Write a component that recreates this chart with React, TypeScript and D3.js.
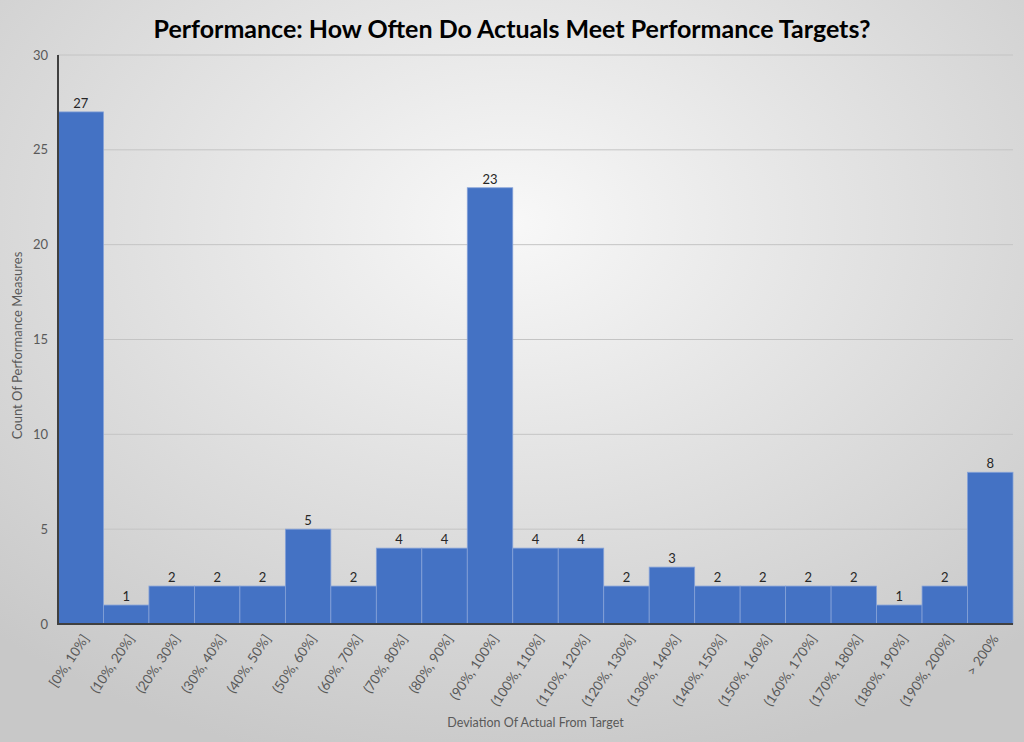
import React, { useRef, useEffect } from 'react';
import * as d3 from 'd3';

const categories = [
  '[0%, 10%]', '(10%, 20%]', '(20%, 30%]', '(30%, 40%]', '(40%, 50%]',
  '(50%, 60%]', '(60%, 70%]', '(70%, 80%]', '(80%, 90%]', '(90%, 100%]',
  '(100%, 110%]', '(110%, 120%]', '(120%, 130%]', '(130%, 140%]', '(140%, 150%]',
  '(150%, 160%]', '(160%, 170%]', '(170%, 180%]', '(180%, 190%]', '(190%, 200%]',
  '> 200%'
];
const counts = [27, 1, 2, 2, 2, 5, 2, 4, 4, 23, 4, 4, 2, 3, 2, 2, 2, 2, 1, 2, 8];
const yTicks = [0, 5, 10, 15, 20, 25, 30];

const title = 'Performance: How Often Do Actuals Meet Performance Targets?';
const xTitle = 'Deviation Of Actual From Target';
const yTitle = 'Count Of Performance Measures';

const App: React.FC = () => {
  const svgRef = useRef<SVGSVGElement>(null);
  const width = 1024;
  const height = 742;

  useEffect(() => {
    if (!svgRef.current) return;
    const svg = d3.select(svgRef.current);
    svg.selectAll('*').remove();

    const font = 'Lato, "Open Sans", sans-serif';
    const margin = { top: 55, right: 11, bottom: 118, left: 58 };

    // background gradient
    const defs = svg.append('defs');
    const grad = defs.append('radialGradient')
      .attr('id', 'bg')
      .attr('cx', '50%').attr('cy', '30%').attr('r', '75%');
    grad.append('stop').attr('offset', '0%').attr('stop-color', '#f8f8f8');
    grad.append('stop').attr('offset', '100%').attr('stop-color', '#c8c8c8');

    svg.append('rect')
      .attr('width', width).attr('height', height)
      .attr('fill', 'url(#bg)');

    const xScale = d3.scaleBand()
      .domain(categories)
      .range([margin.left, width - margin.right])
      .padding(0);

    const yScale = d3.scaleLinear()
      .domain([0, 30])
      .range([height - margin.bottom, margin.top]);

    // gridlines
    svg.append('g')
      .selectAll('line')
      .data(yTicks.filter(t => t > 0))
      .join('line')
      .attr('x1', margin.left)
      .attr('x2', width - margin.right)
      .attr('y1', d => yScale(d))
      .attr('y2', d => yScale(d))
      .style('stroke', '#c4c4c4')
      .style('stroke-width', 1);

    // bars
    svg.append('g')
      .selectAll('rect')
      .data(counts)
      .join('rect')
      .attr('x', (d, i) => xScale(categories[i])!)
      .attr('y', d => yScale(d))
      .attr('width', xScale.bandwidth())
      .attr('height', d => yScale(0) - yScale(d))
      .style('fill', '#4472C4')
      .style('stroke', '#86a2d8')
      .style('stroke-width', 0.8);

    // data labels
    svg.append('g')
      .selectAll('text')
      .data(counts)
      .join('text')
      .attr('x', (d, i) => xScale(categories[i])! + xScale.bandwidth() / 2)
      .attr('y', d => yScale(d) - 4)
      .attr('text-anchor', 'middle')
      .style('font-family', font)
      .style('font-size', '13px')
      .style('fill', '#262626')
      .text(d => d);

    // axes lines
    svg.append('line')
      .attr('x1', margin.left).attr('x2', margin.left)
      .attr('y1', yScale(30)).attr('y2', yScale(0) + 1)
      .style('stroke', '#404040').style('stroke-width', 2);
    svg.append('line')
      .attr('x1', margin.left - 1).attr('x2', width - margin.right)
      .attr('y1', yScale(0)).attr('y2', yScale(0))
      .style('stroke', '#404040').style('stroke-width', 2);

    // y tick labels
    svg.append('g')
      .selectAll('text')
      .data(yTicks)
      .join('text')
      .attr('x', margin.left - 10)
      .attr('y', d => yScale(d) + 4.5)
      .attr('text-anchor', 'end')
      .style('font-family', font)
      .style('font-size', '13px')
      .style('fill', '#595959')
      .text(d => d);

    // x tick labels
    svg.append('g')
      .selectAll('text')
      .data(categories)
      .join('text')
      .attr('transform', d => `translate(${xScale(d)! + xScale.bandwidth() / 2 + 5},${yScale(0) + 12}) rotate(-56)`)
      .attr('text-anchor', 'end')
      .attr('dy', '0.35em')
      .style('font-family', font)
      .style('font-size', '13.5px')
      .style('fill', '#595959')
      .text(d => d);

    // title
    svg.append('text')
      .attr('x', width / 2)
      .attr('y', 38)
      .attr('text-anchor', 'middle')
      .style('font-family', font)
      .style('font-size', '25px')
      .style('font-weight', 'bold')
      .style('fill', '#000')
      .text(title);

    // axis titles
    svg.append('text')
      .attr('x', (margin.left + width - margin.right) / 2)
      .attr('y', 727)
      .attr('text-anchor', 'middle')
      .style('font-family', font)
      .style('font-size', '12.5px')
      .style('fill', '#595959')
      .text(xTitle);

    svg.append('text')
      .attr('transform', `translate(22,${(yScale(0) + yScale(30)) / 2 + 6}) rotate(-90)`)
      .attr('text-anchor', 'middle')
      .style('font-family', font)
      .style('font-size', '13px')
      .style('fill', '#595959')
      .text(yTitle);
  }, []);

  return (
    <svg
      ref={svgRef}
      width={width}
      height={height}
      style={{ position: 'absolute', left: 0, top: 0, display: 'block' }}
    />
  );
};

export default App;
